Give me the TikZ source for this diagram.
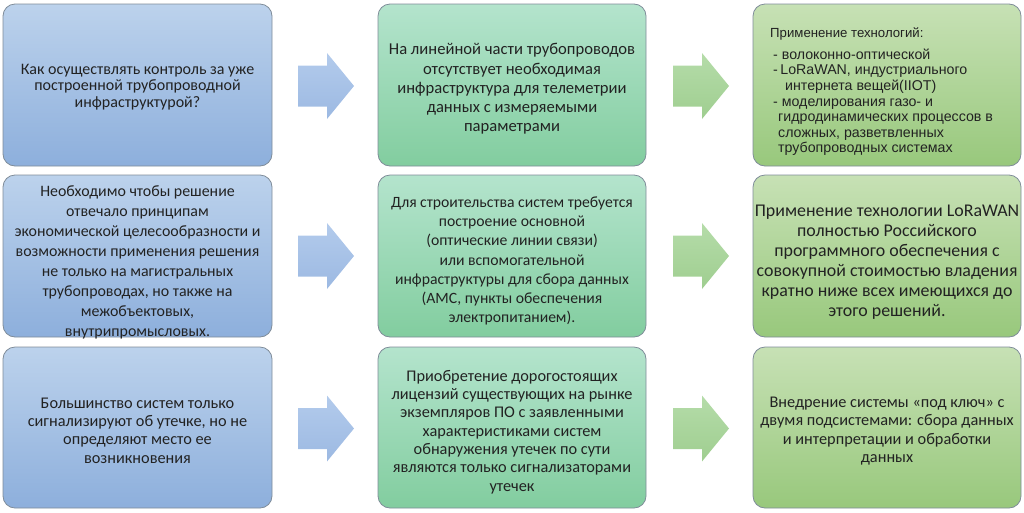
\documentclass[tikz,border=0pt]{standalone}
\usepackage{fontspec}
\setmainfont{Carlito}
\newfontfamily\arialf{Liberation Sans}
\definecolor{txt}{HTML}{222222}
\definecolor{edge}{HTML}{7F8C99}
\definecolor{blueT}{HTML}{BCD2EC}
\definecolor{blueB}{HTML}{8DAFDC}
\definecolor{mintT}{HTML}{B4E4CD}
\definecolor{mintB}{HTML}{82CD9F}
\definecolor{limeT}{HTML}{C7E1B5}
\definecolor{limeB}{HTML}{98C87C}
\definecolor{arBT}{HTML}{B3CBEC}
\definecolor{arBB}{HTML}{9CB9E2}
\definecolor{arGT}{HTML}{B5DCA9}
\definecolor{arGB}{HTML}{9FCE90}
\tikzset{
  panel/.style={draw=edge, line width=0.8pt, rounded corners=12pt, minimum width=268pt, minimum height=162pt, inner sep=0pt},
  bluepanel/.style={panel, top color=blueT, bottom color=blueB},
  mintpanel/.style={panel, top color=mintT, bottom color=mintB},
  limepanel/.style={panel, top color=limeT, bottom color=limeB},
  label/.style={text=txt, align=center, inner sep=0pt},
  bluearrow/.style={top color=arBT, bottom color=arBB, draw=none},
  greenarrow/.style={top color=arGT, bottom color=arGB, draw=none}
}
\newcommand\blockarr[3]{% x-left, y-center, style
  \path[#3] (#1,#2-20.5) -- (#1+29,#2-20.5) -- (#1+29,#2-33) -- (#1+56,#2) -- (#1+29,#2+33) -- (#1+29,#2+20.5) -- (#1,#2+20.5) -- cycle;}
\begin{document}
\begin{tikzpicture}[x=1pt,y=-1pt]
\useasboundingbox (0,0) rectangle (1024,512);
% panels
\node[bluepanel, minimum width=269pt] (b11) at (137.5,85) {};
\node[mintpanel] (b12) at (512,85) {};
\node[limepanel] (b13) at (887,85) {};
\node[bluepanel, minimum width=269pt] (b21) at (137.5,256) {};
\node[mintpanel] (b22) at (512,256) {};
\node[limepanel] (b23) at (887,256) {};
\node[bluepanel, minimum width=269pt, minimum height=161pt] (b31) at (137.5,427.5) {};
\node[mintpanel, minimum height=161pt] (b32) at (512,427.5) {};
\node[limepanel, minimum height=161pt] (b33) at (887,427.5) {};
% arrows
\blockarr{298}{86}{bluearrow}
\blockarr{673}{86}{greenarrow}
\blockarr{298}{256}{bluearrow}
\blockarr{673}{256}{greenarrow}
\blockarr{298}{428.5}{bluearrow}
\blockarr{673}{428.5}{greenarrow}
% texts
\node[label, font=\fontsize{16}{16.7}\selectfont] (t11) at (137.5,87) {Как осуществлять контроль за уже\\построенной трубопроводной\\инфраструктурой?};
\node[label, font=\fontsize{16.6}{19.2}\selectfont] (t12) at (512,89) {На линейной части трубопроводов\\отсутствует необходимая\\инфраструктура для телеметрии\\данных с измеряемыми\\параметрами};
\node[label, font=\fontsize{15.9}{20}\selectfont] (t21) at (137.5,262) {Необходимо чтобы решение\\отвечало принципам\\экономической целесообразности и\\возможности применения решения\\не только на магистральных\\трубопроводах, но также на\\межобъектовых,\\внутрипромысловых.};
\node[label, font=\fontsize{15.7}{19.3}\selectfont] (t22) at (512,261) {Для строительства систем требуется\\построение основной\hspace*{44pt}\\(оптические линии связи)\hspace*{74pt}\\или вспомогательной\hspace*{68pt}\\инфраструктуры для сбора данных\\(АМС, пункты обеспечения\\электропитанием).};
\node[label, font=\fontsize{17.9}{20}\selectfont] (t23) at (887,262.5) {Применение технологии LoRaWAN\\полностью Российского\\программного обеспечения с\\совокупной стоимостью владения\\кратно ниже всех имеющихся до\\этого решений.};
\node[label, font=\fontsize{16.3}{18.3}\selectfont] (t31) at (137.5,430.5) {Большинство систем только\\сигнализируют об утечке, но не\\определяют место ее\\возникновения};
\node[label, font=\fontsize{16.3}{18.3}\selectfont] (t32) at (512,432) {Приобретение дорогостоящих\\лицензий существующих на рынке\\экземпляров ПО с заявленными\\характеристиками систем\\обнаружения утечек по сути\\являются только сигнализаторами\\утечек};
\node[label, font=\fontsize{16.3}{18.3}\selectfont] (t33) at (887,431) {Внедрение системы «под ключ» с\\двумя подсистемами: сбора данных\\и интерпретации и обработки\\данных};
% top right list
\node[label, anchor=base west, font=\arialf\fontsize{13.2}{15}\selectfont] (t13h) at (770,37) {Применение технологий:};
\node[label, align=left, anchor=north west, font=\arialf\fontsize{14.2}{15.6}\selectfont] (t13l) at (773,48.5) {- волоконно-оптической\\-\hspace{2.5pt}LoRaWAN, индустриального\\\hspace*{12pt}интернета вещей(IIOT)\\- моделирования газо- и\\\hspace*{5pt}гидродинамических процессов в\\\hspace*{5pt}сложных, разветвленных\\\hspace*{5pt}трубопроводных системах};
\end{tikzpicture}
\end{document}
